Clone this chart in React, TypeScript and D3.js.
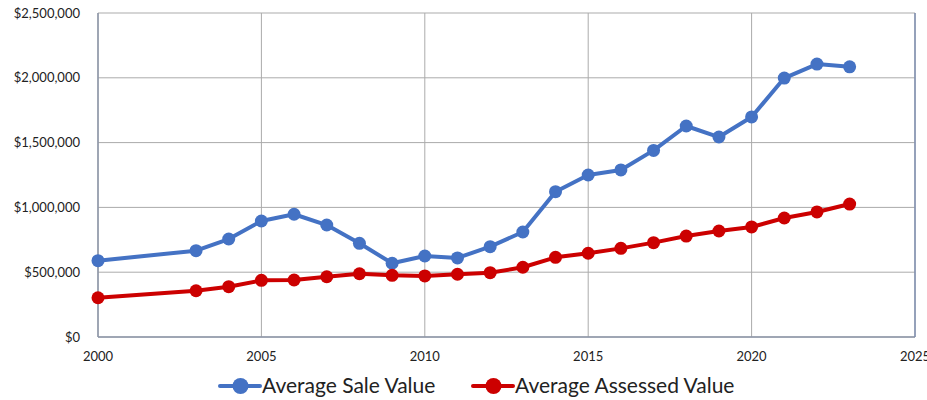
import React from 'react';
import * as d3 from 'd3';

// values
const years = [2000, 2003, 2004, 2005, 2006, 2007, 2008, 2009, 2010, 2011, 2012, 2013, 2014, 2015, 2016, 2017, 2018, 2019, 2020, 2021, 2022, 2023];
const saleValues = [589000, 666000, 756000, 895000, 947000, 864000, 723000, 569000, 625000, 610000, 697000, 810000, 1121000, 1250000, 1289000, 1440000, 1628000, 1543000, 1698000, 1998000, 2106000, 2085000];
const assessedValues = [303000, 357000, 388000, 437000, 440000, 465000, 488000, 476000, 471000, 484000, 496000, 538000, 615000, 646000, 684000, 728000, 779000, 818000, 849000, 918000, 965000, 1026000];
const xTicks = [2000, 2005, 2010, 2015, 2020, 2025];
const yTicks = [0, 500000, 1000000, 1500000, 2000000, 2500000];

const series = [
  { name: 'Average Sale Value', values: saleValues, color: '#4472C4' },
  { name: 'Average Assessed Value', values: assessedValues, color: '#CC0000' },
];

const width = 927;
const height = 400;
const margin = { top: 13, right: 12, bottom: 63, left: 98 };
const font = 'Lato, "Noto Sans", sans-serif';

export default function App() {
  const x = d3.scaleLinear().domain([2000, 2025]).range([margin.left, width - margin.right]);
  const y = d3.scaleLinear().domain([0, 2500000]).range([height - margin.bottom, margin.top]);
  const fmt = (v: number) => '$' + d3.format(',')(v);

  const line = d3.line<number>()
    .x((_, i) => x(years[i]))
    .y(d => y(d));

  // legend item starts (marker line left end)
  const legendX = [220, 473];

  return (
    <svg width={width} height={height} style={{ position: 'absolute', left: 0, top: 0, fontFamily: font }}>
      <rect width={width} height={height} fill="#fff" />
      {/* grid */}
      {yTicks.map(t => (
        <line key={'gy' + t} x1={x(2000)} x2={x(2025)} y1={y(t)} y2={y(t)} stroke="#ABABAB" strokeWidth={1} />
      ))}
      {xTicks.map(t => (
        <line key={'gx' + t} x1={x(t)} x2={x(t)} y1={y(0)} y2={y(2500000)} stroke="#ABABAB" strokeWidth={1} />
      ))}
      {/* frame */}
      <line x1={x(2000)} x2={x(2000)} y1={y(0)} y2={y(2500000)} stroke="#8C96A8" strokeWidth={1.5} />
      <line x1={x(2000)} x2={x(2025)} y1={y(0)} y2={y(0)} stroke="#8C96A8" strokeWidth={1.5} />
      <line x1={x(2025)} x2={x(2025)} y1={y(0)} y2={y(2500000)} stroke="#7F8FB0" strokeWidth={1.5} />
      {/* tick labels */}
      {yTicks.map(t => (
        <text key={'ty' + t} x={x(2000) - 18} y={y(t)} dy="0.35em" textAnchor="end" fontSize={13} fill="#222">{fmt(t)}</text>
      ))}
      {xTicks.map(t => (
        <text key={'tx' + t} x={x(t)} y={y(0) + 24} textAnchor="middle" fontSize={13} fill="#222">{t}</text>
      ))}
      {/* series */}
      {series.map(s => (
        <g key={s.name}>
          <path d={line(s.values) || ''} fill="none" stroke={s.color} strokeWidth={4} strokeLinejoin="round" />
          {s.values.map((v, i) => (
            <circle key={i} cx={x(years[i])} cy={y(v)} r={6.5} fill={s.color} />
          ))}
        </g>
      ))}
      {/* legend */}
      {series.map((s, i) => (
        <g key={'lg' + s.name} transform={`translate(${legendX[i]},386)`}>
          <line x1={0} x2={40} y1={0} y2={0} stroke={s.color} strokeWidth={4} strokeLinecap="round" />
          <circle cx={20.5} cy={0} r={8} fill={s.color} />
          <text x={42} y={0} dy="0.35em" fontSize={21} fill="#222">{s.name}</text>
        </g>
      ))}
    </svg>
  );
}
